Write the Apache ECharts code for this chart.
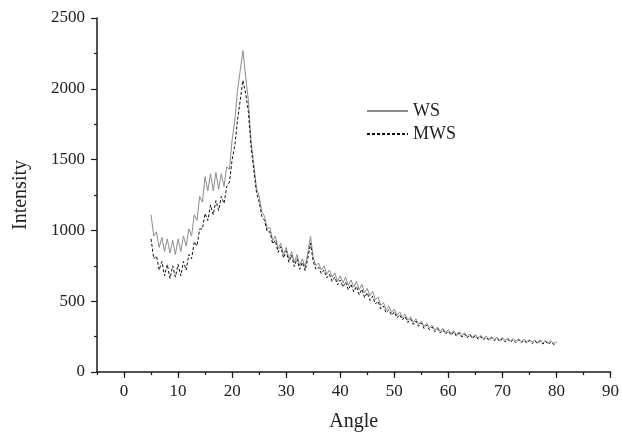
<!DOCTYPE html>
<html>
<head>
<meta charset="utf-8">
<script src="https://cdn.jsdelivr.net/npm/echarts@6/dist/echarts.min.js"></script>
<style>
html,body{margin:0;padding:0;background:#fff;}
#chart{width:622px;height:437px;}
</style>
</head>
<body>
<div id="chart"></div>
<script>
// Angle (2θ) sample positions
var angles = [5,5.5,6,6.5,7,7.5,8,8.5,9,9.5,10,10.5,11,11.5,12,12.5,13,13.5,14,14.5,15,15.5,16,16.5,17,17.5,18,18.5,19,19.5,20,20.5,21,21.5,22,22.5,23,23.5,24,24.5,25,25.5,26,26.5,27,27.5,28,28.5,29,29.5,30,30.5,31,31.5,32,32.5,33,33.5,34,34.5,35,35.5,36,36.5,37,37.5,38,38.5,39,39.5,40,40.5,41,41.5,42,42.5,43,43.5,44,44.5,45,45.5,46,46.5,47,47.5,48,48.5,49,49.5,50,50.5,51,51.5,52,52.5,53,53.5,54,54.5,55,55.5,56,56.5,57,57.5,58,58.5,59,59.5,60,60.5,61,61.5,62,62.5,63,63.5,64,64.5,65,65.5,66,66.5,67,67.5,68,68.5,69,69.5,70,70.5,71,71.5,72,72.5,73,73.5,74,74.5,75,75.5,76,76.5,77,77.5,78,78.5,79,79.5,80];

var wsValues = [1110,960,990,880,950,850,940,840,930,830,940,850,960,890,1010,960,1110,1070,1240,1200,1380,1280,1400,1280,1410,1290,1400,1310,1450,1430,1640,1780,1990,2130,2270,2090,1920,1630,1470,1300,1240,1130,1100,1010,1020,930,960,870,910,830,880,800,850,770,830,750,800,740,840,960,810,750,770,720,750,690,720,670,700,640,680,630,670,610,650,600,640,580,620,560,590,540,570,510,530,470,490,440,465,420,445,400,425,385,410,365,390,350,375,335,360,320,345,310,330,295,318,285,308,278,300,270,292,262,285,256,278,250,270,244,265,240,258,236,254,230,250,228,246,224,244,222,240,218,238,216,235,214,233,212,230,210,228,208,226,206,224,204,222,202,215];

var mwsValues = [940,800,820,720,780,680,760,660,750,670,760,680,780,720,830,800,920,890,1010,1010,1120,1070,1180,1110,1210,1140,1240,1190,1310,1340,1500,1600,1780,1920,2060,1970,1840,1590,1430,1270,1200,1100,1070,990,990,905,930,845,885,805,855,775,825,745,800,725,775,715,800,910,780,725,740,695,720,665,690,640,670,615,650,600,635,580,620,565,605,545,585,525,560,505,535,480,500,445,465,418,440,400,425,382,405,368,392,350,375,336,360,322,346,308,332,298,318,284,306,275,297,268,289,260,282,253,275,247,268,241,262,236,256,232,250,227,245,223,241,220,238,216,235,213,232,210,229,208,227,206,224,203,222,201,220,199,218,197,216,195,214,193,205];

var seriesNames = ['WS','MWS'];
var xTickLabels = ['-5','0','5','10','15','20','25','30','35','40','45','50','55','60','65','70','75','80','85','90'];
var yTickLabels = ['0','500','1000','1500','2000','2500'];

function pairs(xs, ys){ return xs.map(function(x,i){ return [x, ys[i]]; }); }

var serif = '"Liberation Serif","DejaVu Serif",serif';
var axisColor = '#1a1a1a';

var chart = echarts.init(document.getElementById('chart'), null, {renderer:'canvas'});
chart.setOption({
  animation:false,
  backgroundColor:'#ffffff',
  grid:{left:97,right:11,top:18,bottom:61,containLabel:false},
  legend:{
    orient:'vertical',
    left:361,
    top:97,
    itemWidth:41,
    itemHeight:14,
    itemGap:5,
    data:seriesNames,
    itemStyle:{opacity:0},
    textStyle:{fontFamily:serif,fontSize:18,color:'#222'}
  },
  xAxis:[{
    type:'value',
    min:-5,max:90,interval:5,
    name:'Angle',nameLocation:'middle',nameGap:40,
    nameTextStyle:{fontFamily:serif,fontSize:20,color:'#222'},
    axisLine:{show:true,onZero:false,lineStyle:{color:axisColor,width:1.5}},
    axisTick:{show:true,length:3,lineStyle:{color:axisColor,width:1.2}},
    axisLabel:{margin:11,fontFamily:serif,fontSize:17,color:'#222',
      formatter:function(v){ var s=String(v); return (v>=0 && v%10===0 && xTickLabels.indexOf(s)>=0)?s:''; }},
    splitLine:{show:false}
  },{
    type:'category',
    position:'bottom',
    data:xTickLabels,
    boundaryGap:false,
    axisLine:{show:false},
    axisLabel:{show:false},
    axisTick:{show:true,length:6,alignWithLabel:true,lineStyle:{color:axisColor,width:1.2},
      interval:function(idx){ return idx%2===1; }},
    splitLine:{show:false}
  }],
  yAxis:{
    type:'value',
    min:0,max:2500,interval:500,
    name:'Intensity',nameLocation:'middle',nameGap:66,
    nameTextStyle:{fontFamily:serif,fontSize:20,color:'#222'},
    axisLine:{show:true,onZero:false,lineStyle:{color:axisColor,width:1.5}},
    axisTick:{show:true,length:6,lineStyle:{color:axisColor,width:1.2}},
    minorTick:{show:true,splitNumber:2,length:3,lineStyle:{color:axisColor,width:1.2}},
    axisLabel:{margin:12,fontFamily:serif,fontSize:17,color:'#222',
      formatter:function(v){ return yTickLabels.indexOf(String(v))>=0?String(v):''; }},
    splitLine:{show:false}
  },
  series:[{
    name:seriesNames[0],
    type:'line',
    xAxisIndex:0,
    data:pairs(angles, wsValues),
    symbol:'none',
    lineStyle:{color:'#8c8c8c',width:1,type:'solid'},
    itemStyle:{color:'#8c8c8c'}
  },{
    name:seriesNames[1],
    type:'line',
    xAxisIndex:0,
    data:pairs(angles, mwsValues),
    symbol:'none',
    lineStyle:{color:'#111111',width:1,type:[3,2]},
    itemStyle:{color:'#111111'}
  }]
});
</script>
</body>
</html>
